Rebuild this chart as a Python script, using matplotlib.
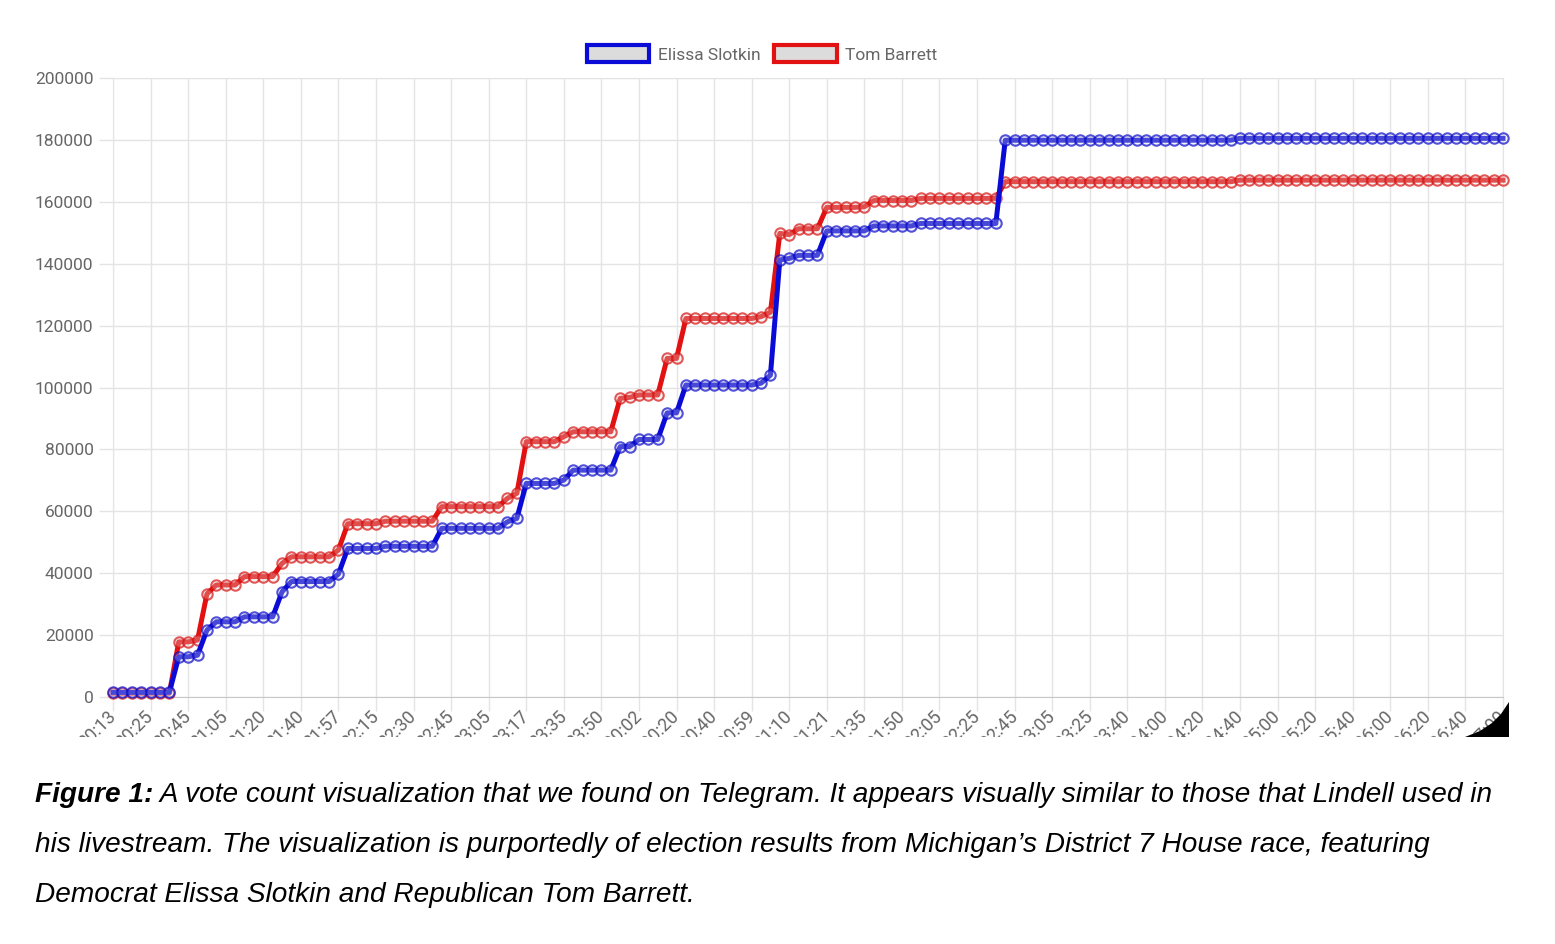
import matplotlib
matplotlib.use("Agg")
import matplotlib.pyplot as plt
from matplotlib.patches import Patch, Polygon
from matplotlib.transforms import Bbox, TransformedBbox
import numpy as np

# vote counts, one value per sample
slotkin = [
    1500, 1500, 1500, 1500, 1500, 1500, 1500,
    13000, 13000, 13500,
    21600, 24300, 24300, 24300,
    25900, 25900, 25900, 25900,
    34000, 37300, 37300, 37300, 37300, 37300,
    39700, 48000, 48000, 48000, 48000,
    48700, 48700, 48700, 48700, 48700, 48700,
    54500, 54500, 54500, 54500, 54500, 54500, 54500,
    56600, 57700,
    69000, 69000, 69000, 69000,
    70100, 73300, 73300, 73300, 73300, 73300,
    80900, 80900, 83200, 83200, 83200,
    91800, 91800,
    100800, 100800, 100800, 100800, 100800, 100800, 100800, 100800,
    101400, 104000,
    141200, 141700, 142700, 142700, 142700,
    150600, 150600, 150600, 150600, 150600,
    152200, 152200, 152200, 152200, 152200,
    153000, 153000, 153000, 153000, 153000, 153000, 153000, 153000, 153000,
    179900, 179900, 179900, 179900, 179900, 179900, 179900, 179900, 179900, 179900,
    179900, 179900, 179900, 179900, 179900, 179900, 179900, 179900, 179900, 179900,
    179900, 179900, 179900, 179900, 179900,
    180500, 180500, 180500, 180500, 180500, 180500, 180500, 180500, 180500, 180500,
    180500, 180500, 180500, 180500, 180500, 180500, 180500, 180500, 180500, 180500,
    180500, 180500, 180500, 180500, 180500, 180500, 180500, 180500, 180500,
]
barrett = [
    1200, 1200, 1200, 1200, 1200, 1200, 1200,
    17800, 17800, 18400,
    33300, 36200, 36200, 36200,
    38900, 38900, 38900, 38900,
    43200, 45300, 45300, 45300, 45300, 45300,
    47500, 56000, 56000, 56000, 56000,
    56800, 56800, 56800, 56800, 56800, 56800,
    61500, 61500, 61500, 61500, 61500, 61500, 61500,
    64200, 65800,
    82500, 82500, 82500, 82500,
    84100, 85700, 85700, 85700, 85700, 85700,
    96500, 96800, 97600, 97600, 97600,
    109400, 109400,
    122300, 122300, 122300, 122300, 122300, 122300, 122300, 122300,
    122900, 124300,
    149800, 149400, 151300, 151300, 151300,
    158200, 158200, 158200, 158200, 158400,
    160400, 160400, 160400, 160400, 160400,
    161100, 161100, 161100, 161100, 161100, 161100, 161100, 161100, 161100,
    166500, 166500, 166500, 166500, 166500, 166500, 166500, 166500, 166500, 166500,
    166500, 166500, 166500, 166500, 166500, 166500, 166500, 166500, 166500, 166500,
    166500, 166500, 166500, 166500, 166500,
    167000, 167000, 167000, 167000, 167000, 167000, 167000, 167000, 167000, 167000,
    167000, 167000, 167000, 167000, 167000, 167000, 167000, 167000, 167000, 167000,
    167000, 167000, 167000, 167000, 167000, 167000, 167000, 167000, 167000,
]
# only every 4th label is shown on the chart
tick_labels = [
    "20:13", "20:25", "20:45", "21:05", "21:20", "21:40", "21:57", "22:15",
    "22:30", "22:45", "23:05", "23:17", "23:35", "23:50", "00:02", "00:20",
    "00:40", "00:59", "01:10", "01:21", "01:35", "01:50", "02:05", "02:25",
    "02:45", "03:05", "03:25", "03:40", "04:00", "04:20", "04:40", "05:00",
    "05:20", "05:40", "06:00", "06:20", "06:40", "07:00",
]
caption_head = "Figure 1:"
caption_lines = [
    " A vote count visualization that we found on Telegram. It appears visually similar to those that Lindell used in",
    "his livestream. The visualization is purportedly of election results from Michigan\u2019s District 7 House race, featuring",
    "Democrat Elissa Slotkin and Republican Tom Barrett.",
]

W, H = 1555, 944
plt.rcParams['font.family'] = ['Roboto', 'DejaVu Sans']
fig = plt.figure(figsize=(W / 100, H / 100), dpi=100)
ax = fig.add_axes([113 / W, 1 - 697 / H, 1390 / W, 619 / H])

blue = '#0b0bd8'
red = '#e31212'
grid = '#e4e4e4'
x = np.arange(len(slotkin))

for vals, col, edge in ((barrett, red, (0.85, 0.07, 0.07, 0.7)),
                        (slotkin, blue, (0.04, 0.04, 0.8, 0.7))):
    ax.plot(x, vals, color=col, lw=3.6, marker='o', ms=7.5,
            mfc=(0.86, 0.86, 0.86, 0.3), mec=edge, mew=1.5,
            clip_on=False, zorder=3)

ax.set_xlim(0, len(x) - 1)
ax.set_ylim(0, 200000)
ax.set_yticks(np.arange(0, 200001, 20000))
ax.set_xticks(x[::4])
ax.set_xticklabels(tick_labels, rotation=45, ha='right', va='center',
                   rotation_mode='anchor')
ax.grid(True, color=grid, lw=1)
ax.tick_params(length=10, width=1, color=grid, labelcolor='#666666',
               labelsize=12.5)
ax.tick_params(axis='y', pad=4)
ax.tick_params(axis='x', pad=2, labelsize=13)
for s in ax.spines.values():
    s.set_color(grid)
ax.spines['bottom'].set_color('#c8c8c8')

fig.legend(handles=[Patch(fc='#dcdcdc', ec=blue, lw=3, label='Elissa Slotkin'),
                    Patch(fc='#dcdcdc', ec=red, lw=3, label='Tom Barrett')],
           loc='center', bbox_to_anchor=(762 / W, 1 - 54 / H), ncol=2,
           frameon=False, handlelength=3.6, handleheight=1.15,
           handletextpad=0.5, columnspacing=0.8, fontsize=12.5,
           labelcolor='#666666')

# the screenshot is cut off just under the tick labels
fig.canvas.draw()
clip = TransformedBbox(Bbox([[0, 1 - 737 / H], [1, 1]]), fig.transFigure)
for lab in ax.get_xticklabels():
    lab.set_clip_box(clip)
    lab.set_clip_on(True)

# rounded black corner of the screenshot
corner = [(1465, 737), (1480, 731), (1492, 723), (1501, 714), (1509, 702), (1509, 737)]
fig.add_artist(Polygon([(px / W, 1 - py / H) for px, py in corner],
                       closed=True, fc='black', ec='none', transform=fig.transFigure))

# caption
cap = dict(family=['Liberation Sans', 'DejaVu Sans'], style='italic', fontsize=20.2,
           va='baseline', color='black')
head = fig.text(35 / W, 1 - 802 / H, caption_head, fontweight='bold', **cap)
fig.canvas.draw()
bb = head.get_window_extent()
fig.text(bb.x1 / W, 1 - 802 / H, caption_lines[0], **cap)
fig.text(35 / W, 1 - 852 / H, caption_lines[1], **cap)
fig.text(35 / W, 1 - 902 / H, caption_lines[2], **cap)

fig.savefig('out.png', dpi=100, facecolor='white')
